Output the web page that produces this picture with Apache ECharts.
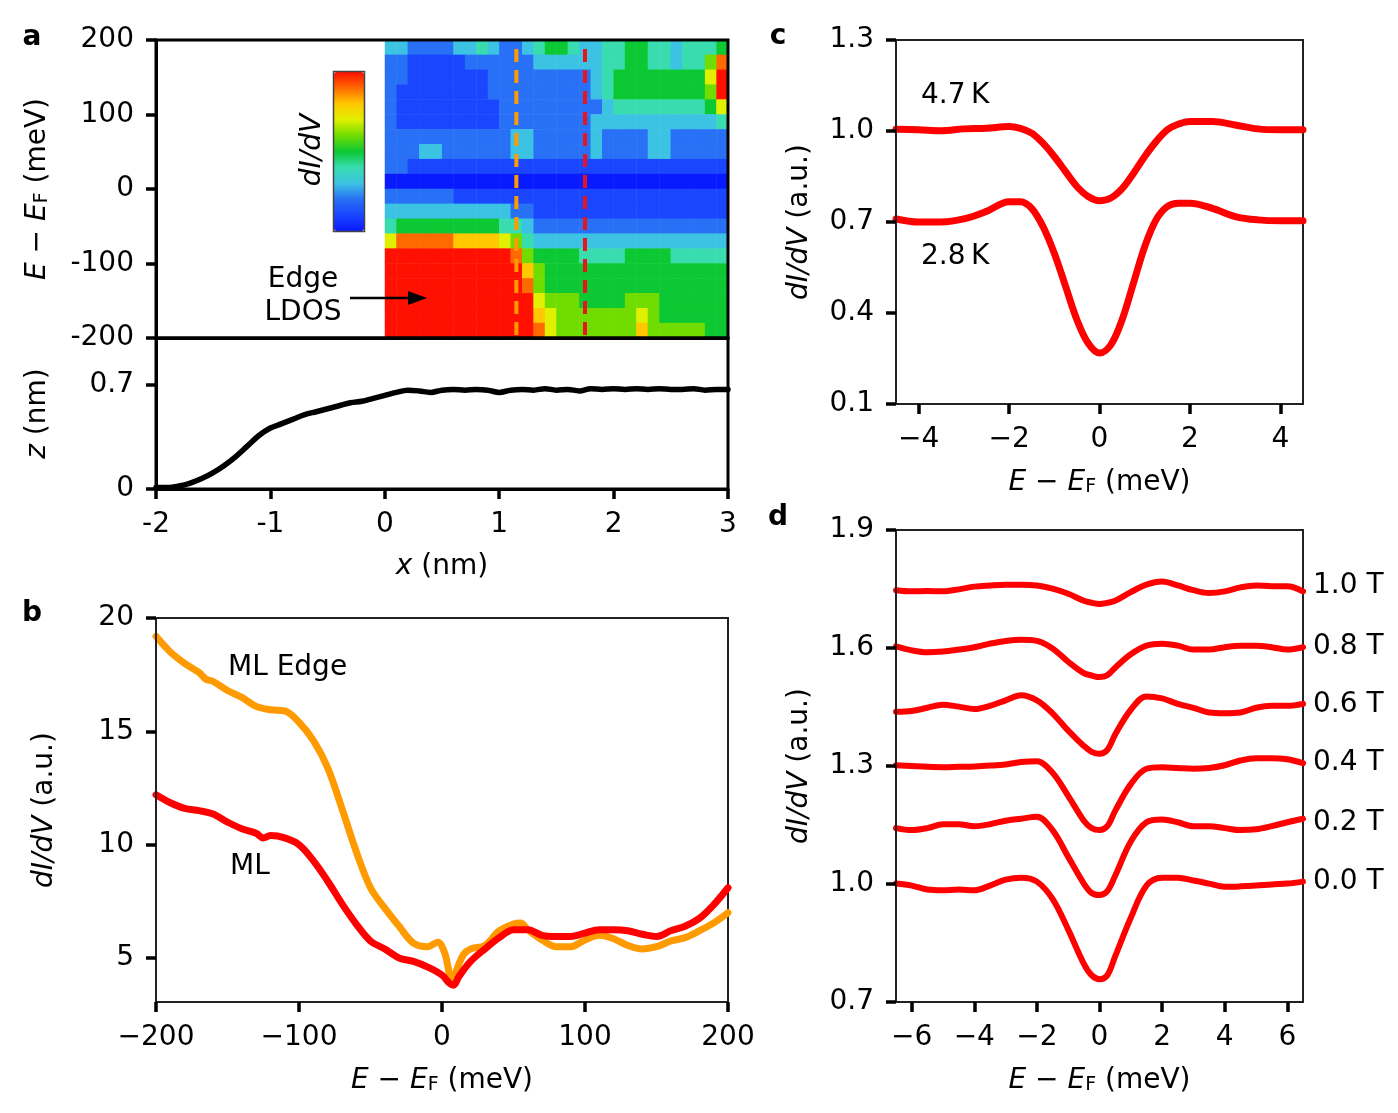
<!DOCTYPE html>
<html><head><meta charset="utf-8">
<script src="https://cdn.jsdelivr.net/npm/echarts@6/dist/echarts.min.js"></script>
<style>html,body{margin:0;padding:0;background:#fff}#c{width:1398px;height:1113px}</style>
</head><body><div id="c"></div>
<script>
// ---------- Panel a: heatmap (x in nm, E in meV) ----------
const heatX = [0.05,0.15,0.25,0.35,0.45,0.55,0.65,0.75,0.85,0.95,1.05,1.15,1.25,1.35,1.45,1.55,1.65,1.75,1.85,1.95,2.05,2.15,2.25,2.35,2.45,2.55,2.65,2.75,2.85,2.95];
const heatE = [190,170,150,130,110,90,70,50,30,10,-10,-30,-50,-70,-90,-110,-130,-150,-170,-190];
const heatRows = [
 [3,3,2,2,2,2,3,3,4,3,2,2,3,4,5,5,4,3,3,4,4,5,5,4,4,3,4,4,4,5],
 [2,2,1,1,1,1,1,2,2,2,2,2,2,3,3,3,3,3,3,4,4,5,5,4,4,3,4,4,6,9],
 [2,2,1,1,1,1,1,1,1,2,2,2,2,2,2,2,2,2,3,4,5,5,5,5,5,5,5,5,7,10],
 [2,1,1,1,1,1,1,1,1,2,2,2,2,2,2,2,2,2,3,4,5,5,5,5,5,5,5,5,6,10],
 [2,1,1,1,1,1,1,1,1,1,2,2,2,2,2,2,2,2,2,3,4,4,4,4,4,4,4,4,5,7],
 [2,1,1,1,1,1,1,1,1,1,2,2,2,2,2,2,2,2,3,3,3,3,3,3,3,3,3,3,3,4],
 [2,2,2,2,2,2,2,2,2,2,2,3,3,2,2,2,2,2,3,2,2,2,2,3,3,2,2,2,2,2],
 [2,2,2,3,3,2,2,2,2,2,2,3,3,2,2,2,2,2,3,2,2,2,2,3,3,2,2,2,2,2],
 [2,2,1,1,1,1,1,1,1,1,1,1,1,1,1,1,1,1,1,1,1,1,1,1,1,1,1,1,1,1],
 [0,0,0,0,0,0,0,0,0,0,0,0,0,0,0,0,0,0,0,0,0,0,0,0,0,0,0,0,0,0],
 [2,2,2,2,2,2,1,1,1,1,1,1,1,1,1,1,1,1,1,1,1,1,1,1,1,1,1,1,1,1],
 [3,3,3,3,3,3,3,3,3,3,3,2,2,1,1,1,1,1,1,1,1,1,1,1,1,1,1,1,1,1],
 [4,5,5,5,5,5,5,5,5,5,4,4,3,2,2,2,2,2,2,2,2,2,2,2,2,2,2,2,2,2],
 [7,9,9,9,9,9,8,8,8,8,7,6,4,3,3,3,3,3,3,3,3,3,3,3,3,3,3,3,3,3],
 [10,10,10,10,10,10,10,10,10,10,10,9,6,5,5,5,5,4,4,4,4,5,5,5,5,4,4,4,4,4],
 [10,10,10,10,10,10,10,10,10,10,10,10,8,6,5,5,5,5,5,5,5,5,5,5,5,5,5,5,5,5],
 [10,10,10,10,10,10,10,10,10,10,10,10,9,6,5,5,5,5,5,5,5,5,5,5,5,5,5,5,5,5],
 [10,10,10,10,10,10,10,10,10,10,10,10,10,7,6,6,6,5,5,5,5,6,6,6,5,5,5,5,5,5],
 [10,10,10,10,10,10,10,10,10,10,10,10,10,8,7,6,6,6,6,6,6,6,7,6,5,5,5,5,5,5],
 [10,10,10,10,10,10,10,10,10,10,10,10,10,9,7,6,6,6,6,6,6,6,8,6,6,6,6,6,5,5]
];
const cutOrange = 1.15, cutRed = 1.75;
const aYTicks = [-200,-100,0,100,200];

// ---------- Panel a: height profile ----------
const zX = [-2,-1.9,-1.8,-1.7,-1.6,-1.5,-1.4,-1.3,-1.2,-1.1,-1.0,-0.9,-0.8,-0.7,-0.6,-0.5,-0.4,-0.3,-0.2,-0.1,0,0.1,0.2,0.3,0.4,0.5,0.6,0.7,0.8,0.9,1.0,1.1,1.2,1.3,1.4,1.5,1.6,1.7,1.8,1.9,2.0,2.1,2.2,2.3,2.4,2.5,2.6,2.7,2.8,2.9,3.0];
const zVal = [0.01,0.01,0.02,0.04,0.07,0.11,0.16,0.22,0.29,0.36,0.41,0.44,0.47,0.50,0.52,0.54,0.56,0.58,0.59,0.61,0.63,0.65,0.665,0.66,0.65,0.665,0.67,0.665,0.67,0.665,0.65,0.665,0.67,0.665,0.675,0.665,0.67,0.66,0.675,0.67,0.675,0.67,0.675,0.67,0.675,0.67,0.67,0.675,0.665,0.67,0.67];
const zTicks = [0, 0.7];

// ---------- Panel b ----------
const bEdgeE = [-200,-190,-180,-170,-165,-160,-150,-140,-130,-120,-110,-100,-90,-80,-70,-60,-50,-40,-30,-20,-10,-3,2,7,11,15,20,30,40,50,55,60,70,80,90,100,110,120,130,140,150,160,170,180,190,200];
const bEdge = [19.19,18.5,18.0,17.6,17.3,17.2,16.8,16.5,16.1,15.95,15.9,15.4,14.6,13.4,11.6,9.7,8.1,7.2,6.4,5.66,5.5,5.7,5.2,4.0,4.6,5.15,5.4,5.55,6.2,6.5,6.55,6.25,5.8,5.5,5.5,5.8,6.0,5.85,5.55,5.4,5.5,5.75,5.9,6.2,6.55,7.0];
const bMLE = [-200,-190,-180,-170,-160,-150,-140,-130,-125,-120,-110,-100,-90,-80,-70,-60,-50,-40,-30,-20,-10,0,5,8,12,20,30,40,50,60,70,80,90,100,110,120,130,140,150,160,170,180,190,200];
const bML = [12.2,11.85,11.6,11.5,11.35,11.0,10.7,10.5,10.3,10.4,10.3,10.0,9.3,8.4,7.4,6.5,5.75,5.4,5.0,4.85,4.6,4.25,3.9,3.8,4.2,4.85,5.4,5.9,6.25,6.25,6.0,5.95,5.95,6.1,6.25,6.25,6.2,6.05,5.95,6.2,6.4,6.75,7.35,8.1];
const bXTicks = [-200,-100,0,100,200];
const bYTicks = [5,10,15,20];

// ---------- Panel c ----------
const cE = [-4.5,-4,-3.5,-3,-2.5,-2,-1.75,-1.5,-1.25,-1,-0.75,-0.5,-0.25,0,0.25,0.5,0.75,1,1.25,1.5,1.75,2,2.5,3,3.5,4,4.5];
const c47K = [1.006,1.004,1.001,1.007,1.009,1.015,1.009,0.993,0.96,0.916,0.866,0.817,0.784,0.77,0.779,0.81,0.86,0.916,0.965,1.004,1.023,1.031,1.031,1.02,1.007,1.004,1.004];
const c28K = [0.71,0.70,0.70,0.71,0.735,0.767,0.767,0.745,0.685,0.597,0.488,0.378,0.30,0.268,0.295,0.378,0.498,0.619,0.707,0.751,0.762,0.762,0.745,0.718,0.707,0.704,0.704];
const cXTicks = [-4,-2,0,2,4];
const cYTicks = [0.1,0.4,0.7,1.0,1.3];

// ---------- Panel d ----------
const dE = [-6.5,-6,-5.5,-5,-4.5,-4,-3.5,-3,-2.5,-2,-1.5,-1,-0.5,-0.25,0,0.25,0.5,1,1.5,2,2.5,3,3.5,4,4.5,5,5.5,6,6.5];
const d00 = [1.001,0.996,0.986,0.984,0.986,0.984,0.996,1.011,1.016,1.006,0.962,0.884,0.797,0.768,0.758,0.768,0.816,0.914,0.996,1.016,1.016,1.009,1.001,0.993,0.994,0.996,0.999,1.001,1.006];
const d02 = [1.142,1.137,1.142,1.152,1.152,1.147,1.152,1.161,1.166,1.171,1.137,1.069,1.001,0.977,0.972,0.982,1.021,1.108,1.157,1.164,1.157,1.147,1.147,1.142,1.137,1.139,1.147,1.157,1.166];
const d04 = [1.302,1.30,1.298,1.297,1.298,1.299,1.301,1.304,1.31,1.312,1.283,1.224,1.161,1.142,1.137,1.147,1.186,1.254,1.293,1.297,1.295,1.293,1.295,1.302,1.314,1.32,1.32,1.317,1.307];
const d06 = [1.438,1.44,1.448,1.456,1.451,1.445,1.453,1.467,1.48,1.467,1.434,1.39,1.351,1.336,1.331,1.341,1.38,1.443,1.477,1.472,1.458,1.448,1.436,1.434,1.436,1.448,1.453,1.453,1.458];
const d08 = [1.604,1.594,1.589,1.591,1.596,1.602,1.611,1.618,1.621,1.618,1.599,1.565,1.536,1.53,1.526,1.531,1.55,1.584,1.606,1.611,1.606,1.596,1.596,1.602,1.606,1.606,1.602,1.596,1.602];
const d10 = [1.747,1.744,1.745,1.744,1.749,1.756,1.759,1.761,1.761,1.759,1.751,1.738,1.72,1.715,1.712,1.715,1.72,1.742,1.761,1.769,1.759,1.747,1.74,1.744,1.754,1.759,1.757,1.757,1.744];
const dFieldLabels = ['0.0 T','0.2 T','0.4 T','0.6 T','0.8 T','1.0 T'];
const dXTicks = [-6,-4,-2,0,2,4,6];
const dYTicks = [0.7,1.0,1.3,1.6,1.9];

// ---------- styling ----------
const FONT = 'DejaVu Sans';
const TXT = '#000';
const FS = 28;
const RED = '#ff0000';
const ORANGE = '#ff9a00';
const cmap = ['#0a1aff','#1a46ff','#2870f5','#3cc2e2','#38dcae','#0cc832','#70dc00','#e0f000','#ffc800','#ff6a00','#ff1000'];

const rich = {
  i: {fontStyle:'italic', fontSize:FS, fontFamily:FONT, color:TXT},
  s: {fontSize:19, fontFamily:FONT, color:TXT, padding:[10,0,0,0]},
  n: {fontSize:FS, fontFamily:FONT, color:TXT}
};
const EFname = '{i|E}{n| − }{i|E}{s|F}{n| (meV)}';
const dIdVname = '{i|dI/dV}{n| (a.u.)}';
const uminus = v => String(Math.round(v*100)/100).replace('-', '−');
const fmt1 = v => v.toFixed(1);

function tick(len){ return {show:true, inside:false, length:len||9, lineStyle:{color:'#000', width:3.5}}; }
function lbl(extra){ return Object.assign({fontSize:FS, fontFamily:FONT, color:TXT}, extra||{}); }

function xVal(gi, min, max, ticks, fmt, name, lineColor, lw){
  return {type:'value', gridIndex:gi, min:min, max:max, z:5,
    axisLine:{show:true, onZero:false, lineStyle:{color:lineColor, width:lw}},
    axisTick: Object.assign(tick(10), {customValues:ticks}),
    axisLabel: lbl({margin:22, formatter:fmt, customValues:ticks}),
    splitLine:{show:false},
    name:name, nameLocation:'middle', nameGap:64,
    nameTextStyle:{fontSize:FS, fontFamily:FONT, color:TXT, rich:rich}};
}
function yVal(gi, min, max, ticks, fmt, name, gap, lineColor, lw){
  return {type:'value', gridIndex:gi, min:min, max:max, z:5,
    axisLine:{show:true, onZero:false, lineStyle:{color:lineColor, width:lw}},
    axisTick: Object.assign(tick(10), {customValues:ticks}),
    axisLabel: lbl({margin:22, formatter:fmt, customValues:ticks}),
    splitLine:{show:false},
    name:name, nameLocation:'middle', nameGap:gap,
    nameTextStyle:{fontSize:FS, fontFamily:FONT, color:TXT, rich:rich}};
}

// heatmap data from rows (top row = highest E)
const heatData = [];
heatRows.forEach((row, r) => row.forEach((v, c) => heatData.push([c, heatRows.length - 1 - r, v])));

const zip = (xs, ys) => xs.map((x, k) => [x, ys[k]]);

function lineS(xi, yi, data, color, w){
  return {type:'line', xAxisIndex:xi, yAxisIndex:yi, data:data, showSymbol:false, smooth:0.35,
    lineStyle:{color:color, width:w, cap:'round', join:'round'}, z:3, silent:true};
}

function txt(x, y, text, opts){
  return Object.assign({type:'text', x:x, y:y, z:100, silent:true,
    style:Object.assign({text:text, fill:TXT, fontSize:FS, fontFamily:FONT,
      textAlign:'left', textVerticalAlign:'middle', align:'left', verticalAlign:'middle'}, opts && opts.style || {})},
    opts && opts.el || {});
}

const option = {
  animation:false,
  backgroundColor:'#fff',
  grid:[
    {left:156, top:40, width:572, height:298, show:true, borderColor:'#000', borderWidth:3, backgroundColor:'transparent', z:5},
    {left:385, top:40, width:343, height:298},
    {left:156, top:338, width:572, height:151, show:true, borderColor:'#000', borderWidth:3, z:5},
    {left:156, top:618, width:572, height:384, show:true, borderColor:'#222', borderWidth:2},
    {left:896, top:40, width:407, height:364, show:true, borderColor:'#222', borderWidth:2},
    {left:896, top:530, width:407, height:472, show:true, borderColor:'#222', borderWidth:2}
  ],
  xAxis:[
    {type:'value', gridIndex:0, min:-2, max:3, z:5, axisLine:{show:true, onZero:false, lineStyle:{color:'#000', width:3}},
      axisTick:{show:false}, axisLabel:{show:false}, splitLine:{show:false}},
    {type:'category', gridIndex:1, data:heatX, show:false, boundaryGap:true},
    Object.assign(xVal(2, -2, 3, [-2,-1,0,1,2,3], v => String(v), '{i|x}{n| (nm)}', '#000', 3), {interval:1}),
    xVal(3, -200, 200, bXTicks, uminus, EFname, '#222', 2),
    xVal(4, -4.5, 4.5, cXTicks, uminus, EFname, '#222', 2),
    xVal(5, -6.5, 6.5, dXTicks, uminus, EFname, '#222', 2)
  ],
  yAxis:[
    Object.assign(yVal(0, -200, 200, aYTicks, v => String(v), EFname, 104, '#000', 3), {interval:100}),
    {type:'category', gridIndex:1, data:heatE.slice().reverse(), show:false, boundaryGap:true},
    yVal(2, 0, 1.016, zTicks, v => String(v), '{i|z}{n| (nm)}', 104, '#000', 3),
    yVal(3, 3.06, 20, bYTicks, v => String(v), dIdVname, 97, '#222', 2),
    yVal(4, 0.1, 1.3, cYTicks, fmt1, dIdVname, 82, '#222', 2),
    yVal(5, 0.7, 1.9, dYTicks, fmt1, dIdVname, 82, '#222', 2)
  ],
  visualMap:{type:'continuous', min:0, max:10, seriesIndex:0, calculable:false, hoverLink:false,
    left:334, top:72, itemWidth:30, itemHeight:159, padding:0, text:null,
    inRange:{color:cmap}},
  series:[
    {type:'heatmap', xAxisIndex:1, yAxisIndex:1, data:heatData, silent:true, z:1},
    {type:'line', xAxisIndex:0, yAxisIndex:0, data:[[cutOrange,-200],[cutOrange,200]], showSymbol:false, silent:true, z:3,
      lineStyle:{color:ORANGE, width:4, type:[13,8], dashOffset:-3}},
    {type:'line', xAxisIndex:0, yAxisIndex:0, data:[[cutRed,-200],[cutRed,200]], showSymbol:false, silent:true, z:3,
      lineStyle:{color:'#e8141e', width:4, type:[13,8], dashOffset:-3}},
    lineS(2, 2, zip(zX, zVal), '#000', 5.5),
    lineS(3, 3, zip(bEdgeE, bEdge), ORANGE, 7),
    lineS(3, 3, zip(bMLE, bML), RED, 7),
    lineS(4, 4, zip(cE, c47K), RED, 7),
    lineS(4, 4, zip(cE, c28K), RED, 7),
    lineS(5, 5, zip(dE, d00), RED, 6),
    lineS(5, 5, zip(dE, d02), RED, 6),
    lineS(5, 5, zip(dE, d04), RED, 6),
    lineS(5, 5, zip(dE, d06), RED, 6),
    lineS(5, 5, zip(dE, d08), RED, 6),
    lineS(5, 5, zip(dE, d10), RED, 6)
  ],
  graphic:[
    txt(32, 38, 'a', {style:{fontWeight:'bold', textAlign:'center', align:'center'}}),
    txt(32, 614, 'b', {style:{fontWeight:'bold', textAlign:'center', align:'center'}}),
    txt(778, 37, 'c', {style:{fontWeight:'bold', textAlign:'center', align:'center'}}),
    txt(778, 518, 'd', {style:{fontWeight:'bold', textAlign:'center', align:'center'}}),
    {type:'rect', z:100, silent:true, shape:{x:333.5, y:71.5, width:31, height:160}, style:{fill:'none', stroke:'#444', lineWidth:1.5}},
    txt(313, 150, 'dI/dV', {style:{fontStyle:'italic', textAlign:'center', align:'center'}, el:{rotation:Math.PI/2}}),
    txt(303, 280, 'Edge', {style:{textAlign:'center', align:'center'}}),
    txt(303, 313, 'LDOS', {style:{textAlign:'center', align:'center'}}),
    {type:'line', z:100, silent:true, shape:{x1:350, y1:298, x2:414, y2:298}, style:{stroke:'#000', lineWidth:2.5}},
    {type:'polygon', z:100, silent:true, shape:{points:[[408,291],[427,298],[408,305]]}, style:{fill:'#000'}},
    txt(228, 668, 'ML Edge'),
    txt(230, 867, 'ML'),
    txt(921, 96, '4.7\u2009K'),
    txt(921, 257, '2.8\u2009K'),
    txt(1313, 882, dFieldLabels[0]),
    txt(1313, 823, dFieldLabels[1]),
    txt(1313, 763, dFieldLabels[2]),
    txt(1313, 705, dFieldLabels[3]),
    txt(1313, 647, dFieldLabels[4]),
    txt(1313, 586, dFieldLabels[5])
  ]
};

const chart = echarts.init(document.getElementById('c'), null, {renderer:'canvas'});
chart.setOption(option);
</script></body></html>
